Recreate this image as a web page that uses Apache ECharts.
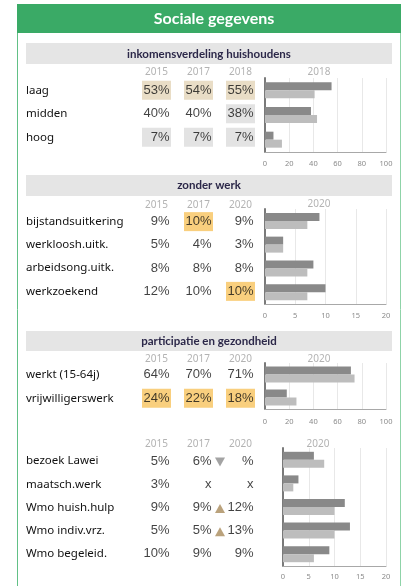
<!DOCTYPE html>
<html>
<head>
<meta charset="utf-8">
<script src="https://cdn.jsdelivr.net/npm/echarts@6/dist/echarts.min.js"></script>
<style>
  html, body { margin: 0; padding: 0; background: #fff; }
  #main { width: 405px; height: 586px; }
</style>
</head>
<body>
<div id="main"></div>
<script>
// inkomensverdeling huishoudens
const inkRows = ['laag', 'midden', 'hoog'];
const inkYears = ['2015', '2017', '2018'];
const inkTable = [['53%', '54%', '55%'], ['40%', '40%', '38%'], ['7%', '7%', '7%']];
const inkMark = [['b', 'b', 'b'], ['', '', 'g'], ['g', 'g', 'g']];
const inkBar = [55, 38, 7];
const inkRef = [41, 43, 14];

// zonder werk
const werkRows = ['bijstandsuitkering', 'werkloosh.uitk.', 'arbeidsong.uitk.', 'werkzoekend'];
const werkYears = ['2015', '2017', '2020'];
const werkTable = [['9%', '10%', '9%'], ['5%', '4%', '3%'], ['8%', '8%', '8%'], ['12%', '10%', '10%']];
const werkMark = [['', 'o', ''], ['', '', ''], ['', '', ''], ['', '', 'o']];
const werkBar = [9, 3, 8, 10];
const werkRef = [7, 3, 7, 7];

// participatie en gezondheid
const partRows = ['werkt (15-64j)', 'vrijwilligerswerk'];
const partYears = ['2015', '2017', '2020'];
const partTable = [['64%', '70%', '71%'], ['24%', '22%', '18%']];
const partMark = [['', '', ''], ['o', 'o', 'o']];
const partBar = [71, 18];
const partRef = [74, 26];

// zorg / welzijn
const zorgRows = ['bezoek Lawei', 'maatsch.werk', 'Wmo huish.hulp', 'Wmo indiv.vrz.', 'Wmo begeleid.'];
const zorgYears = ['2015', '2017', '2020'];
const zorgTable = [['5%', '6%', '%'], ['3%', 'x', 'x'], ['9%', '9%', '12%'], ['5%', '5%', '13%'], ['10%', '9%', '9%']];
const zorgMark = [['', '', ''], ['', '', ''], ['', '', ''], ['', '', ''], ['', '', '']];
const zorgTrend = ['down', '', 'up', 'up', ''];
const zorgBar = [6, 3, 12, 13, 9];
const zorgRef = [8, 2, 10, 10, 6];

const markColors = { b: '#e3d5b8', g: '#dcdcdc', o: '#f7c35e', '': 'rgba(0,0,0,0)' };
const valueFont = 'Liberation Sans';
const labelFont = 'Noto Sans';

// layout van de vier blokken
const sections = [
  { rows: inkRows, years: inkYears, table: inkTable, mark: inkMark, bar: inkBar, ref: inkRef, max: 100, interval: 20,
    tTop: 78.5, tH: 70.5, bTop: 78, bH: 74, bLeft: 265, bW: 121, yearMargin: 1, tickMargin: 8 },
  { rows: werkRows, years: werkYears, table: werkTable, mark: werkMark, bar: werkBar, ref: werkRef, max: 20, interval: 5,
    tTop: 210, tH: 93, bTop: 209, bH: 95, bLeft: 265, bW: 121, yearMargin: 0, tickMargin: 8 },
  { rows: partRows, years: partYears, table: partTable, mark: partMark, bar: partBar, ref: partRef, max: 100, interval: 20,
    tTop: 363, tH: 47, bTop: 363, bH: 46, bLeft: 265, bW: 121, yearMargin: -1, tickMargin: 9 },
  { rows: zorgRows, years: zorgYears, table: zorgTable, mark: zorgMark, bar: zorgBar, ref: zorgRef, max: 20, interval: 5,
    tTop: 449.5, tH: 116, bTop: 448, bH: 118, bLeft: 283, bW: 103, yearMargin: 0, tickMargin: 7, trend: zorgTrend }
];

const grid = [], xAxis = [], yAxis = [], series = [];

sections.forEach((s, i) => {
  const tg = i * 2, bg = i * 2 + 1;
  grid.push({ left: 135.5, top: s.tTop, width: 126, height: s.tH });
  grid.push({ left: s.bLeft, top: s.bTop, width: s.bW, height: s.bH });

  xAxis.push({
    gridIndex: tg, type: 'category', data: s.years, position: 'top',
    axisLine: { show: false }, axisTick: { show: false }, splitLine: { show: false },
    axisLabel: { color: '#b3b3b3', fontSize: 10, fontFamily: labelFont, margin: s.yearMargin }
  });
  yAxis.push({
    gridIndex: tg, type: 'category', data: s.rows, inverse: true,
    axisLine: { show: false }, axisTick: { show: false }, splitLine: { show: false },
    axisLabel: { color: '#111', fontSize: 11.5, fontFamily: labelFont, align: 'left', margin: 109.5 }
  });
  xAxis.push({
    gridIndex: bg, type: 'value', min: 0, max: s.max, interval: s.interval,
    axisLine: { show: true, lineStyle: { color: '#a8a8a8', width: 1 } },
    axisTick: { show: false },
    splitLine: { show: true, lineStyle: { color: '#e8e8e8', width: 1 } },
    axisLabel: { color: '#8a8a8a', fontSize: 7.5, fontFamily: labelFont, margin: s.tickMargin }
  });
  yAxis.push({
    gridIndex: bg, type: 'category', data: s.rows, inverse: true,
    axisLine: { show: true, lineStyle: { color: '#7a7a7a', width: 2 } },
    axisTick: { show: false }, axisLabel: { show: false }, splitLine: { show: false }
  });

  const cells = [];
  s.table.forEach((row, r) => row.forEach((txt, c) => {
    cells.push({ value: [c, r], text: txt, itemStyle: { color: markColors[s.mark[r][c]] } });
  }));
  series.push({
    type: 'scatter', xAxisIndex: tg, yAxisIndex: tg, symbol: 'rect', symbolSize: [29, 19],
    silent: true, data: cells,
    label: {
      show: true, position: ['100%', '50%'], align: 'right', verticalAlign: 'middle', offset: [-1.5, 0],
      formatter: p => p.data.text, color: '#111', fontSize: 13, fontFamily: valueFont
    }
  });

  if (s.trend) {
    const tri = [];
    s.trend.forEach((t, r) => {
      if (!t) return;
      tri.push({
        value: [1, r], symbolRotate: t === 'down' ? 180 : 0,
        itemStyle: { color: t === 'down' ? '#8c8c8c' : '#a98b5b' }
      });
    });
    series.push({
      type: 'scatter', xAxisIndex: tg, yAxisIndex: tg, symbol: 'triangle', symbolSize: [10, 9],
      symbolOffset: [21.5, 1], silent: true, data: tri
    });
  }

  series.push({
    type: 'bar', xAxisIndex: bg, yAxisIndex: bg, data: s.bar, barWidth: 8, barGap: '0%',
    itemStyle: { color: '#898989' }, silent: true
  });
  series.push({
    type: 'bar', xAxisIndex: bg, yAxisIndex: bg, data: s.ref, barWidth: 8, barGap: '0%',
    itemStyle: { color: '#bdbdbd' }, silent: true
  });
});

const headerFont = { fontFamily: 'Lato', fontWeight: 'bold', fontSize: 11.5, fill: '#2c2849' };
const yearFont = { fontFamily: labelFont, fontSize: 10, fill: '#b3b3b3', textAlign: 'center', textVerticalAlign: 'middle' };

const graphic = [
  { type: 'rect', shape: { x: 17, y: 4, width: 384, height: 29 }, style: { fill: '#3aaa66' } },
  { type: 'line', shape: { x1: 17.5, y1: 33, x2: 17.5, y2: 586 }, style: { stroke: '#62c086', lineWidth: 1 } },
  { type: 'line', shape: { x1: 400.5, y1: 33, x2: 400.5, y2: 586 }, style: { stroke: '#8fd3a8', lineWidth: 1 } },
  { type: 'text', x: 214, y: 18.5, style: { text: 'Sociale gegevens', fontFamily: 'Lato', fontWeight: 'bold', fontSize: 16, fill: '#fff', textAlign: 'center', textVerticalAlign: 'middle' } },

  { type: 'rect', shape: { x: 26, y: 43, width: 366, height: 21 }, style: { fill: '#e5e5e5' } },
  { type: 'text', x: 209, y: 54, style: Object.assign({ text: 'inkomensverdeling huishoudens', textAlign: 'center', textVerticalAlign: 'middle' }, headerFont) },
  { type: 'rect', shape: { x: 26, y: 175, width: 366, height: 21 }, style: { fill: '#e5e5e5' } },
  { type: 'text', x: 209, y: 185.5, style: Object.assign({ text: 'zonder werk', textAlign: 'center', textVerticalAlign: 'middle' }, headerFont) },
  { type: 'rect', shape: { x: 26, y: 331, width: 366, height: 20 }, style: { fill: '#e5e5e5' } },
  { type: 'text', x: 209, y: 341, style: Object.assign({ text: 'participatie en gezondheid', textAlign: 'center', textVerticalAlign: 'middle' }, headerFont) },

  { type: 'text', x: 319, y: 72.5, style: Object.assign({ text: inkYears[2] }, yearFont) },
  { type: 'text', x: 319, y: 204.5, style: Object.assign({ text: werkYears[2] }, yearFont) },
  { type: 'text', x: 319, y: 359.5, style: Object.assign({ text: partYears[2] }, yearFont) },
  { type: 'text', x: 318, y: 444.5, style: Object.assign({ text: zorgYears[2] }, yearFont) }
];

const chart = echarts.init(document.getElementById('main'));
chart.setOption({
  animation: false,
  grid: grid,
  xAxis: xAxis,
  yAxis: yAxis,
  series: series,
  graphic: graphic
});
</script>
</body>
</html>
